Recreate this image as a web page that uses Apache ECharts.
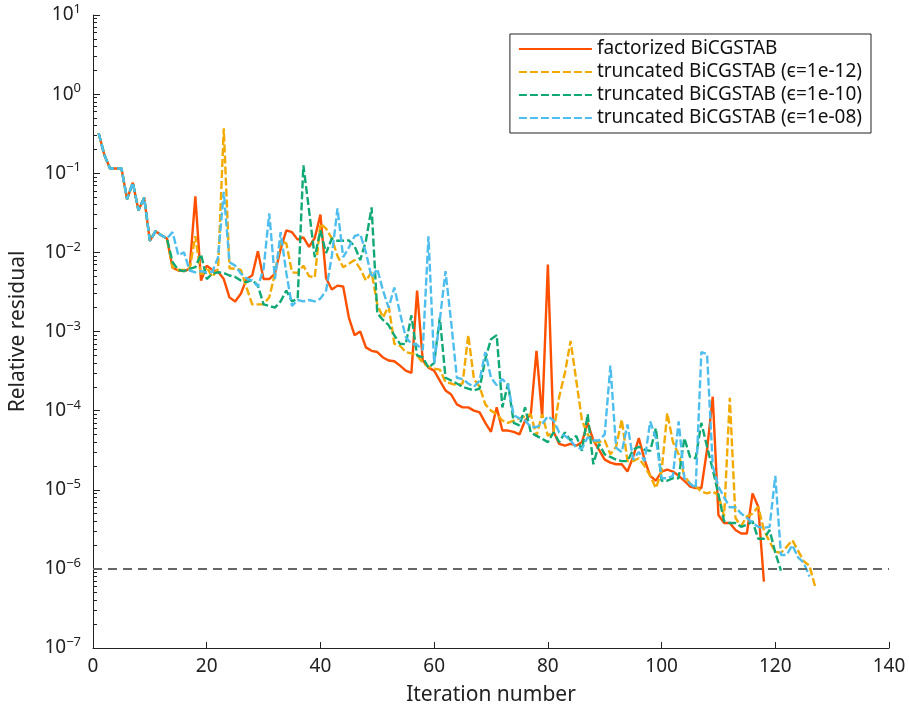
<!DOCTYPE html>
<html style="height: 100%">
<head>
  <meta charset="utf-8">
</head>
<body style="height: 100%; margin: 0; background: #fff">
<div id="container" style="width: 909px; height: 711px"></div>
<script src="https://cdn.jsdelivr.net/npm/echarts@6/dist/echarts.min.js"></script>
<script>
// residual history, index 0 = iteration 1
var commonStart = [0.32, 0.17, 0.115, 0.115, 0.116, 0.047, 0.076, 0.034, 0.049, 0.014, 0.0185, 0.0165, 0.015];

var factorized = commonStart.concat([
  0.0064, 0.0059, 0.0058, 0.0062, 0.051, 0.0044, 0.0068, 0.0060, 0.0057, 0.0046,
  0.0027, 0.0024, 0.0030, 0.0046, 0.0051, 0.0103, 0.0046, 0.0046, 0.0054, 0.011,
  0.019, 0.018, 0.0145, 0.0155, 0.0117, 0.0152, 0.030, 0.0047, 0.0034, 0.0038,
  0.0037, 0.0015, 0.0009, 0.0010, 0.00063, 0.00057, 0.00055, 0.00047, 0.00043, 0.00042,
  0.00037, 0.00032, 0.00030, 0.0033, 0.00043, 0.00035, 0.00032, 0.00024, 0.00018, 0.00016,
  0.00012, 0.00011, 0.00011, 0.00010, 9.5e-5, 7e-5, 5.4e-5, 0.00011, 5.6e-5, 5.6e-5,
  5.4e-5, 5e-5, 7.5e-5, 9e-5, 0.00057, 8.3e-5, 0.007, 5.4e-5, 3.8e-5, 3.6e-5,
  3.8e-5, 3.6e-5, 4e-5, 7e-5, 4.2e-5, 3.2e-5, 2.4e-5, 2.2e-5, 2.1e-5, 2.1e-5,
  1.7e-5, 2.6e-5, 4.5e-5, 2.4e-5, 1.5e-5, 1.3e-5, 1.7e-5, 1.8e-5, 1.7e-5, 1.5e-5,
  1.3e-5, 1.1e-5, 1.05e-5, 1.05e-5, 3.2e-5, 0.00015, 4.8e-6, 3.8e-6, 3.8e-6, 3.1e-6,
  2.8e-6, 2.8e-6, 9e-6, 6.1e-6, 6.9e-7
]);

var trunc12 = commonStart.concat([
  0.0064, 0.0060, 0.0060, 0.0062, 0.016, 0.0050, 0.0065, 0.0049, 0.0062, 0.37,
  0.0063, 0.0062, 0.0060, 0.0036, 0.0022, 0.0022, 0.0022, 0.0027, 0.0054, 0.014,
  0.013, 0.0056, 0.0055, 0.0068, 0.0050, 0.0048, 0.023, 0.020, 0.015, 0.009,
  0.0065, 0.0072, 0.008, 0.0062, 0.0044, 0.0056, 0.0022, 0.0015, 0.0021, 0.0007,
  0.00066, 0.00055, 0.00053, 0.0005, 0.0004, 0.00036, 0.00034, 0.00033, 0.00023, 0.00022,
  0.00021, 0.00022, 0.0009, 0.00025, 0.0002, 0.00012, 0.0001, 9e-5, 7.5e-5, 7e-5,
  7.5e-5, 8e-5, 8.5e-5, 9e-5, 4.8e-5, 9e-5, 4.8e-5, 5.4e-5, 0.00015, 0.0003,
  0.00076, 0.00024, 7.5e-5, 5e-5, 4e-5, 4e-5, 4.2e-5, 2.8e-5, 3.5e-5, 7.7e-5,
  2.3e-5, 2.3e-5, 2.5e-5, 2e-5, 1.5e-5, 1.05e-5, 1.7e-5, 9.3e-5, 4e-5, 2.8e-5,
  1.5e-5, 1.2e-5, 1.1e-5, 9.5e-6, 9e-6, 9.5e-6, 8.5e-6, 4.6e-6, 0.000145, 4.4e-6,
  3.5e-6, 4.6e-6, 5e-6, 6.1e-6, 3.1e-6, 2.2e-6, 1.65e-6, 1.6e-6, 1.9e-6, 2.3e-6,
  1.7e-6, 1.25e-6, 1.1e-6, 6e-7
]);

var trunc10 = commonStart.concat([
  0.0075, 0.0060, 0.0058, 0.0062, 0.0065, 0.0095, 0.0046, 0.0054, 0.0056, 0.0055,
  0.0051, 0.0049, 0.0044, 0.0042, 0.0045, 0.0038, 0.0022, 0.0021, 0.0020, 0.0024,
  0.0033, 0.0024, 0.0026, 0.126, 0.034, 0.0087, 0.019, 0.0098, 0.015, 0.014,
  0.014, 0.0142, 0.012, 0.008, 0.014, 0.037, 0.0017, 0.0014, 0.0012, 0.00089,
  0.0007, 0.00069, 0.0016, 0.0005, 0.00047, 0.00035, 0.0004, 0.0015, 0.00026, 0.00024,
  0.00022, 0.0002, 0.00019, 0.00018, 0.00019, 0.00045, 0.0008, 0.0009, 0.00011, 0.00022,
  7e-5, 6.5e-5, 0.00011, 5.3e-5, 4.8e-5, 4.4e-5, 4e-5, 5.3e-5, 4e-5, 5.3e-5,
  4.2e-5, 4.8e-5, 3.1e-5, 9e-5, 2.1e-5, 3.8e-5, 2.8e-5, 2.6e-5, 2.4e-5, 2.3e-5,
  2.3e-5, 3.2e-5, 3.5e-5, 3.2e-5, 3.1e-5, 6e-5, 1.3e-5, 1.3e-5, 1.4e-5, 1.4e-5,
  4.5e-5, 2.6e-5, 2.5e-5, 7e-5, 3.5e-5, 1.8e-5, 8.7e-6, 4e-6, 3.8e-6, 3.8e-6,
  3.4e-6, 3.6e-6, 4e-6, 2.4e-6, 2.4e-6, 3.1e-6, 1.6e-6, 9.5e-7
]);

var trunc08 = commonStart.concat([
  0.018, 0.0092, 0.010, 0.0059, 0.0056, 0.0058, 0.0056, 0.0057, 0.0087, 0.058,
  0.0075, 0.0068, 0.0054, 0.0047, 0.0044, 0.0037, 0.0062, 0.031, 0.0046, 0.018,
  0.0055, 0.0021, 0.0025, 0.0024, 0.0025, 0.0024, 0.0026, 0.0033, 0.009, 0.036,
  0.0087, 0.0115, 0.016, 0.017, 0.010, 0.0048, 0.0062, 0.0033, 0.0020, 0.0036,
  0.0017, 0.00085, 0.0007, 0.00068, 0.00058, 0.016, 0.0004, 0.0014, 0.0058, 0.0013,
  0.00026, 0.00025, 0.00022, 0.0002, 0.00024, 0.00055, 0.00026, 0.00021, 0.00025, 0.00021,
  8.7e-5, 8e-5, 7.5e-5, 6.2e-5, 6.2e-5, 6.8e-5, 8.5e-5, 7.5e-5, 5.3e-5, 4.8e-5,
  4.2e-5, 3.4e-5, 3.3e-5, 4.6e-5, 4.2e-5, 4.2e-5, 5e-5, 0.00037, 3.4e-5, 3e-5,
  6.7e-5, 2.4e-5, 3e-5, 2.3e-5, 7.3e-5, 4.5e-5, 1.4e-5, 1.4e-5, 1.5e-5, 7.3e-5,
  1.4e-5, 1.2e-5, 1.05e-5, 0.00055, 0.00052, 2e-5, 1.1e-5, 8e-6, 6e-6, 6e-6,
  5e-6, 4.4e-6, 3.8e-6, 3.4e-6, 3.3e-6, 3.4e-6, 1.5e-5, 1.5e-6, 1.5e-6, 2e-6,
  1.4e-6, 1.2e-6, 8e-7
]);

var seriesNames = [
  'factorized BiCGSTAB',
  'truncated BiCGSTAB (\u03f5=1e-12)',
  'truncated BiCGSTAB (\u03f5=1e-10)',
  'truncated BiCGSTAB (\u03f5=1e-08)'
];
var seriesColors = ['#FF5000', '#F2A900', '#10A874', '#4DBEEE'];
// stopping tolerance, drawn across the whole x range
var tolerance = 1e-6;
var toleranceX = [0, 140];

function pairs(arr) {
  return arr.map(function (v, i) { return [i + 1, v]; });
}

// minor tick positions 2..9 inside each decade
var minorVals = [];
for (var e = -7; e <= 0; e++) {
  for (var m = 2; m <= 9; m++) minorVals.push(m * Math.pow(10, e));
}

var font = '"Noto Sans", "DejaVu Sans", sans-serif';
var dom = document.getElementById('container');
var myChart = echarts.init(dom, null, { renderer: 'canvas' });

var allData = [factorized, trunc12, trunc10, trunc08];
var series = allData.map(function (d, k) {
  return {
    name: seriesNames[k],
    type: 'line',
    data: pairs(d),
    symbol: 'none',
    lineStyle: {
      color: seriesColors[k],
      width: 2.4,
      type: k === 0 ? 'solid' : [8, 3]
    },
    itemStyle: { color: seriesColors[k] },
    z: 3 + k
  };
});
series.push({
  name: 'tolerance',
  type: 'line',
  data: toleranceX.map(function (x) { return [x, tolerance]; }),
  symbol: 'none',
  silent: true,
  lineStyle: { color: '#666', width: 2, type: [9, 6] },
  z: 8
});

var option = {
  backgroundColor: '#fff',
  animation: false,
  textStyle: { fontFamily: font },
  grid: { left: 88, right: 20, top: 15, bottom: 63, containLabel: false },
  legend: {
    right: 38,
    top: 34,
    orient: 'vertical',
    backgroundColor: '#fff',
    borderColor: '#222',
    borderWidth: 1,
    borderRadius: 0,
    padding: [5, 9, 5, 8],
    itemWidth: 73,
    itemHeight: 14,
    itemGap: 3,
    itemStyle: { opacity: 0 },
    textStyle: { fontFamily: font, fontSize: 19, lineHeight: 20, color: '#111' },
    data: seriesNames
  },
  xAxis: {
    type: 'value',
    min: 0,
    max: 140,
    interval: 20,
    name: 'Iteration number',
    nameLocation: 'middle',
    nameGap: 37,
    nameTextStyle: { fontFamily: font, fontSize: 21, color: '#222' },
    axisLine: { lineStyle: { color: '#222', width: 1 } },
    axisTick: { inside: true, length: 6, lineStyle: { color: '#222' } },
    axisLabel: { fontFamily: font, fontSize: 19, color: '#222', margin: 9 },
    splitLine: { show: false }
  },
  yAxis: [{
    type: 'log',
    logBase: 10,
    min: 1e-7,
    max: 10,
    name: 'Relative residual',
    nameLocation: 'middle',
    nameGap: 64,
    nameTextStyle: { fontFamily: font, fontSize: 21, color: '#222' },
    axisLine: { show: true, lineStyle: { color: '#222', width: 1 } },
    axisTick: { inside: true, length: 7, lineStyle: { color: '#222' } },
    axisLabel: {
      margin: 12,
      formatter: function (v) {
        var p = Math.round(Math.log10(v));
        return '{b|10}{s|' + (p < 0 ? '\u2212' + (-p) : p) + '}';
      },
      rich: {
        b: { fontFamily: font, fontSize: 19, color: '#222' },
        s: { fontFamily: font, fontSize: 13, color: '#222', padding: [0, 0, 11, 0] }
      }
    },
    splitLine: { show: false }
  }, {
    type: 'log',
    logBase: 10,
    min: 1e-7,
    max: 10,
    position: 'left',
    axisLine: { show: false },
    axisLabel: { show: false },
    axisTick: { show: true, inside: true, length: 4, customValues: minorVals, lineStyle: { color: '#222' } },
    splitLine: { show: false }
  }],
  series: series
};

myChart.setOption(option);
</script>
</body>
</html>
